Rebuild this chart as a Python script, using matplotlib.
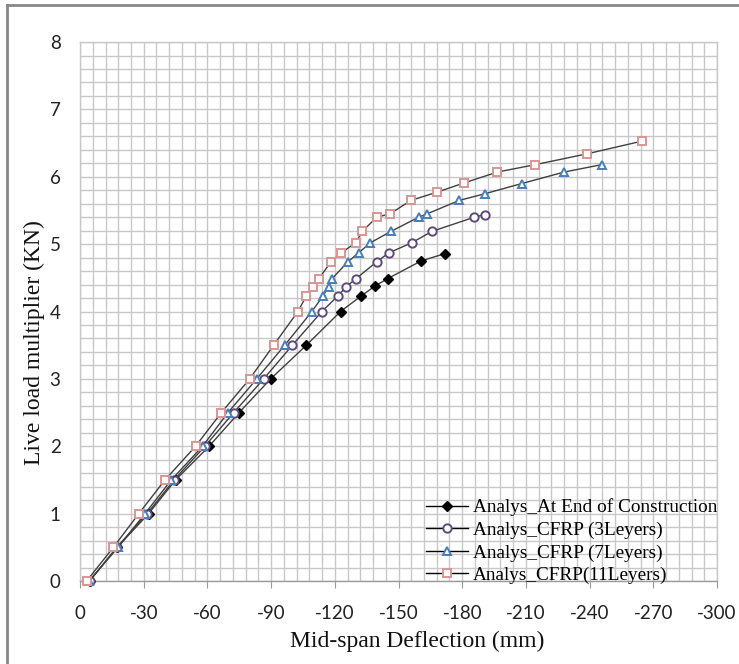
import matplotlib.pyplot as plt
from matplotlib.ticker import MultipleLocator, FixedLocator
from matplotlib.lines import Line2D

plt.rcParams['axes.unicode_minus'] = False

# load steps (KN) and mid-span deflection (mm) for each analysis case
load_end = [0, 0.5, 1, 1.5, 2, 2.5, 3, 3.5, 4, 4.23, 4.38, 4.49, 4.75, 4.86]
defl_end = [-4.5, -17.5, -32.3, -45, -60.8, -74.9, -89.8, -106.6, -122.7,
            -132.4, -139, -145, -160.6, -171.9]

load_3l = [0, 0.5, 1, 1.5, 2, 2.5, 3, 3.5, 4, 4.23, 4.37, 4.49, 4.74, 4.87,
           5.02, 5.19, 5.40, 5.44]
defl_3l = [-4.5, -17.3, -31.6, -44.3, -58.8, -72.4, -86.5, -100, -113.9,
           -121.4, -125.4, -130.1, -139.8, -145.4, -156.2, -165.8, -185.7, -190.7]

load_7l = [0, 0.5, 1, 1.5, 2, 2.5, 3, 3.5, 4, 4.23, 4.37, 4.49, 4.74, 4.87,
           5.02, 5.19, 5.40, 5.45, 5.65, 5.75, 5.90, 6.07, 6.18]
defl_7l = [-4.2, -17.9, -30.6, -43, -57.7, -69.7, -83.2, -96.4, -109.2,
           -114.4, -117.1, -118.8, -126.2, -131.2, -136.7, -146.5, -159.5,
           -163.5, -178.7, -190.9, -208.1, -228, -245.7]

load_11l = [0, 0.5, 1, 1.5, 2, 2.5, 3, 3.5, 4, 4.23, 4.37, 4.49, 4.74, 4.87,
            5.02, 5.19, 5.40, 5.45, 5.65, 5.77, 5.91, 6.07, 6.18, 6.34, 6.53]
defl_11l = [-3.1, -15.7, -27.7, -40, -54.4, -66.6, -79.9, -91.2, -102.6,
            -106.6, -109.7, -112.5, -118.3, -123, -129.8, -132.9, -139.8,
            -146, -155.9, -168, -181, -196.6, -214.4, -238.7, -264.8]

labels = ['Analys_At End of Construction', 'Analys_CFRP (3Leyers)',
          'Analys_CFRP (7Leyers)', 'Analys_CFRP(11Leyers)']
x_ticks = [0, -30, -60, -90, -120, -150, -180, -210, -240, -270, -300]
y_ticks = [0, 1, 2, 3, 4, 5, 6, 7, 8]

fig = plt.figure(figsize=(7.39, 6.64), dpi=100)
ax = fig.add_axes([0.1083, 0.125, 0.8619, 0.8117])

line_col = '#404040'
styles = [
    dict(marker='D', ms=5.5, mfc='black', mec='black', mew=1),
    dict(marker='o', ms=6, mfc='white', mec='#604a7b', mew=1.4),
    dict(marker='^', ms=6, mfc='white', mec='#4a7ebb', mew=1.4),
    dict(marker='s', ms=6, mfc='white', mec='#d99694', mew=1.4),
]
series = [(defl_end, load_end), (defl_3l, load_3l), (defl_7l, load_7l),
          (defl_11l, load_11l)]
for (xs, ys), st, lab in zip(series, styles, labels):
    ax.plot(xs, ys, color=line_col, lw=1, label=lab, zorder=3, clip_on=False, **st)

ax.set_xlim(0, -300)
ax.set_ylim(0, 8)
ax.xaxis.set_major_locator(FixedLocator(x_ticks))
ax.xaxis.set_minor_locator(MultipleLocator(6))
ax.yaxis.set_major_locator(FixedLocator(y_ticks))
ax.yaxis.set_minor_locator(MultipleLocator(0.2))
ax.set_xticklabels([str(v) for v in x_ticks])
ax.set_yticklabels([str(v) for v in y_ticks])

ax.grid(which='both', color='#c8c8c8', lw=1)
ax.set_axisbelow(True)
for s in ax.spines.values():
    s.set_color('#c8c8c8')
    s.set_linewidth(1)
ax.spines['bottom'].set_color('#9a9a9a')

ax.tick_params(axis='x', which='major', direction='out', length=5, color='#9a9a9a',
               pad=12, labelsize=13.5, labelcolor='#222222')
ax.tick_params(axis='y', which='major', direction='in', length=0,
               pad=14, labelsize=13.5, labelcolor='#222222')
ax.tick_params(which='minor', length=0)
for t in ax.get_xticklabels() + ax.get_yticklabels():
    t.set_family('Lato')

serif = 'Liberation Serif'
ax.set_xlabel('Mid-span Deflection (mm)', family=serif, fontsize=17, color='#111111')
ax.set_ylabel('Live load multiplier (KN)', family=serif, fontsize=17, color='#111111')
ax.xaxis.set_label_coords(0.53, -0.092)
ax.yaxis.set_label_coords(-0.055, 0.4416)

handles = [Line2D([], [], color='black', lw=1, **st) for st in styles]
leg = ax.legend(handles, labels, loc='upper left', bbox_to_anchor=(0.543, 0.153),
                frameon=False, prop=dict(family=serif, size=13.9),
                handlelength=2.2, handletextpad=0.25, labelspacing=0.26,
                borderpad=0, borderaxespad=0)

# outer chart frame along the top and left edges
fig.add_artist(Line2D([7 / 739, 7 / 739], [0, 1 - 5 / 664], color='#888888', lw=2))
fig.add_artist(Line2D([7 / 739, 1], [1 - 5 / 664, 1 - 5 / 664], color='#888888', lw=2))

fig.savefig('out.png', dpi=100)
